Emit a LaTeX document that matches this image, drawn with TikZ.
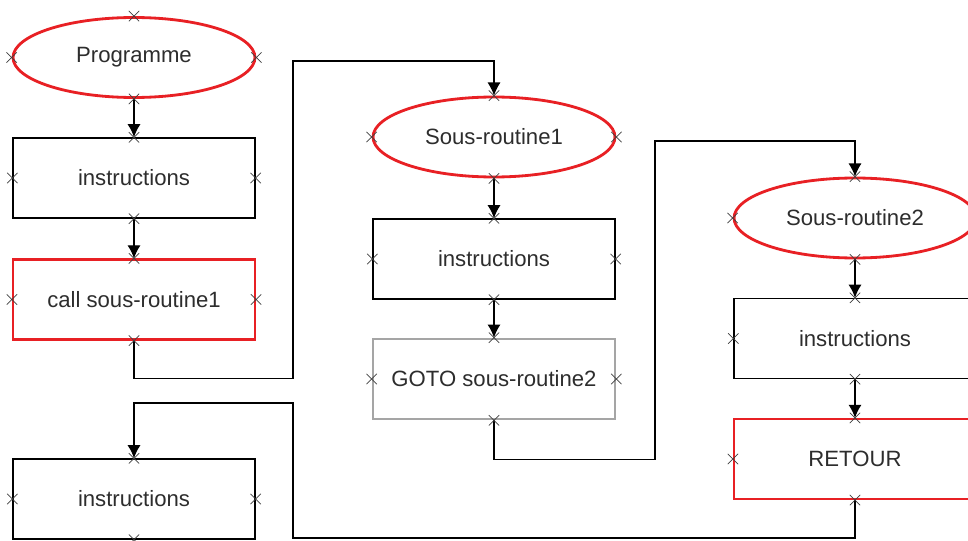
\documentclass[tikz,border=0pt]{standalone}
\usepackage{fontspec}
\setmainfont{Liberation Sans}
\usetikzlibrary{shapes.geometric,shapes.misc,arrows.meta}
\definecolor{routinered}{RGB}{232,32,36}
\definecolor{gotogray}{RGB}{165,165,165}
\definecolor{labelgray}{RGB}{45,45,45}
\tikzset{
  routine/.style={
    ellipse,
    draw=routinered,
    line width=1.6pt,
    minimum width=4.84cm,
    minimum height=1.6cm,
    inner sep=0pt,
    text=labelgray,
    font=\fontsize{12.6}{15}\selectfont
  },
  instr/.style={
    rectangle,
    draw=black,
    line width=0.8pt,
    minimum width=4.84cm,
    minimum height=1.6cm,
    inner sep=0pt,
    text=labelgray,
    font=\fontsize{12.6}{15}\selectfont
  },
  callbox/.style={instr, draw=routinered, line width=1.2pt},
  gotobox/.style={instr, draw=gotogray, line width=1.5pt},
  crossmark/.style={cross out, draw=black!75, line width=0.4pt,
    minimum size=5.5pt, inner sep=0pt},
  flow/.style={draw, line width=0.8pt, -{Latex[length=7.5pt,width=7.5pt]}}
}

\begin{document}
\begin{tikzpicture}[x=0.02cm, y=-0.02cm]
\clip (0,0) rectangle (968,541);
\fill[white] (0,0) rectangle (968,541);

% programme principal
\node[routine] (prog)   at (134,57.5)  {Programme};
\node[instr]   (instrA) at (134,178)   {instructions};
\node[callbox] (call)   at (134,299.5) {call sous-routine1};
\node[instr]   (instrB) at (134,499)   {instructions};

% sous-routine 1
\node[routine] (srA)    at (494,137)   {Sous-routine1};
\node[instr]   (instrC) at (494,259)   {instructions};
\node[gotobox] (goto)   at (494,379)   {GOTO sous-routine2};

% sous-routine 2
\node[routine] (srB)    at (855,218)   {Sous-routine2};
\node[instr]   (instrD) at (855,338.5) {instructions};
\node[callbox] (retour) at (855,459)   {RETOUR};

\coordinate (bendA) at (293,61);
\coordinate (bendB) at (655,141);
\coordinate (bendC) at (293,403);

\draw[flow] (prog.south) -- (instrA.north);
\draw[flow] (instrA.south) -- (call.north);
\draw[flow] (call.south) -- ++(0,38) -| (bendA) -| (srA.north);
\draw[flow] (srA.south) -- (instrC.north);
\draw[flow] (instrC.south) -- (goto.north);
\draw[flow] (goto.south) -- ++(0,39) -| (bendB) -| (srB.north);
\draw[flow] (srB.south) -- (instrD.north);
\draw[flow] (instrD.south) -- (retour.north);
\draw[flow] (retour.south) -- ++(0,38) -| (bendC) -| (instrB.north);

% points de connexion
\foreach \n in {prog,instrA,call,instrB,srA,instrC,goto,srB,instrD,retour}
  \foreach \a in {north,south,east,west}
    \node[crossmark] (\n-\a) at (\n.\a) {};
\end{tikzpicture}
\end{document}
